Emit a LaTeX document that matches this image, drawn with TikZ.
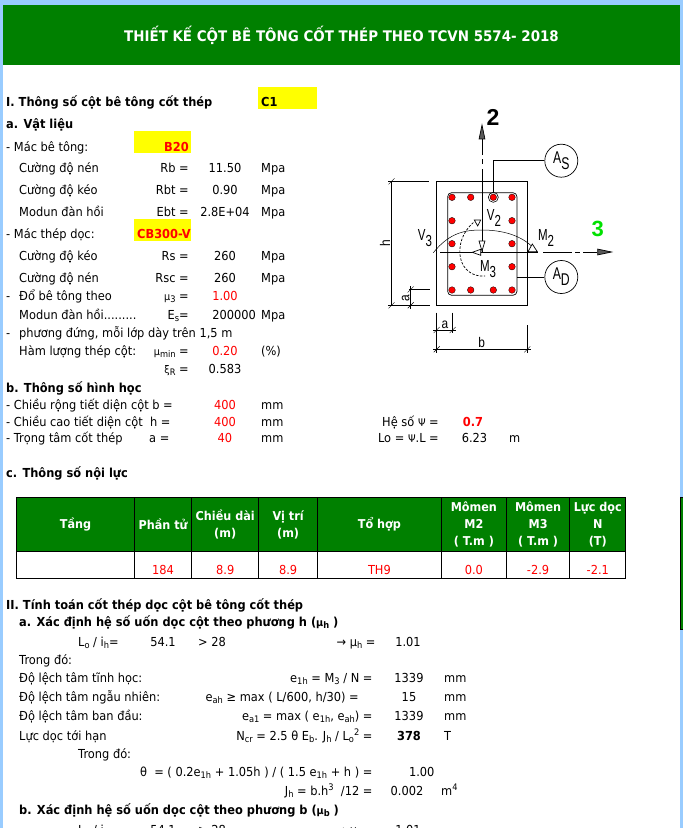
\documentclass[tikz,border=0pt]{standalone}
\usepackage{fontspec}
\usepackage{graphicx}
\setmainfont[FakeStretch=0.92]{DejaVu Sans}
\newfontfamily\cadfont{Liberation Sans}
\usetikzlibrary{arrows.meta}
\definecolor{pagegreen}{RGB}{0,128,0}
\definecolor{edgeblue}{RGB}{153,204,255}
\definecolor{markyellow}{RGB}{255,255,0}
\definecolor{valred}{RGB}{255,0,0}
\definecolor{limegreen}{RGB}{0,225,0}
\newcommand{\sbt}[1]{\raisebox{-2.5pt}{\fontsize{9}{9}\selectfont #1}}
\newcommand{\spt}[1]{\raisebox{4.5pt}{\fontsize{9}{9}\selectfont #1}}
\newcommand{\muu}[1]{{\fontsize{10.5}{10}\selectfont μ}\sbt{#1}}
\newcommand{\cad}[3][16]{\scalebox{.72}[1]{\cadfont\fontsize{#1}{#1}\selectfont #2\raisebox{-6pt}{#3}}}
\newcommand{\dtick}[1]{\draw #1 +(-3,3) -- +(3,-3);}
\newcommand{\low}[1]{\raisebox{-9pt}[0pt][0pt]{#1}}
\begin{document}
\begin{tikzpicture}[x=1pt,y=-1pt,
    lbl/.style={anchor=base west,inner sep=0pt,font=\fontsize{12.4}{14}\selectfont},
    lblr/.style={anchor=base east,inner sep=0pt,font=\fontsize{12.4}{14}\selectfont},
    val/.style={anchor=base,inner sep=0pt,font=\fontsize{12.4}{14}\selectfont},
    hd/.style={anchor=base west,inner sep=0pt,font=\fontsize{12.4}{14}\selectfont\bfseries},
    redval/.style={val,text=valred},
    boldval/.style={val,font=\fontsize{12.4}{14}\selectfont\bfseries},
    yellowbox/.style={fill=markyellow,inner sep=0pt},
    headcell/.style={draw=black,line width=0.9pt,fill=pagegreen,text=white,inner sep=0pt,minimum height=54pt,
        align=center,font=\fontsize{12.2}{17}\selectfont\bfseries},
    bodycell/.style={draw=black,line width=0.9pt,inner sep=0pt,minimum height=26.6pt,text=valred,
        font=\fontsize{12.4}{14}\selectfont},
    rebar/.style={circle,fill=valred,draw=black,line width=0.3pt,inner sep=0pt,minimum size=6.6pt},
    tagcircle/.style={circle,draw,line width=0.7pt,inner sep=0pt,minimum size=33pt},
    cadtext/.style={inner sep=0pt},
    thin line/.style={line width=0.7pt},
    axis tip/.style={-{Stealth[inset=0pt,length=16pt,width=6.5pt,fill=gray!70!black]}}
  ]
  \useasboundingbox (0,0) rectangle (683,828);
  \clip (0,0) rectangle (683,828);

  % page
  \fill[edgeblue] (0,0) rectangle (683,828);
  \fill[white] (3,5) rectangle (680,828);
  \node[fill=pagegreen,inner sep=0pt,minimum width=677pt,minimum height=60pt,text=white,
    font=\fontsize{14.6}{16}\selectfont\bfseries] (title) at (341.5,35) {THIẾT KẾ CỘT BÊ TÔNG CỐT THÉP THEO TCVN 5574- 2018};
  \node[draw=black,fill=pagegreen,line width=0.8pt,inner sep=0pt,minimum width=4pt,minimum height=132pt] (sliver) at (682,563) {};

  % part I
  \node[hd] (s1) at (6,106) {I. Thông số cột bê tông cốt thép};
  \node[yellowbox,minimum width=59pt,minimum height=22pt] (c1box) at (287.5,98) {};
  \node[hd] (c1) at (261,106) {C1};
  \node[hd] (s1a) at (6,128) {a. Vật liệu};
  \node[lbl] (bt) at (6,151) {- Mác bê tông:};
  \node[yellowbox,minimum width=57pt,minimum height=22pt] (b20box) at (162.5,142) {};
  \node[hd,anchor=base east,text=valred] (b20) at (189,151) {B20};
  \node[lbl] (rbn) at (19,172) {Cường độ nén};
  \node[lblr] (rbs) at (189,172) {Rb =};
  \node[val] (rbv) at (225,172) {11.50};
  \node[lbl] (rbu) at (261,172) {Mpa};
  \node[lbl] (rtn) at (19,194) {Cường độ kéo};
  \node[lblr] (rts) at (189,194) {Rbt =};
  \node[val] (rtv) at (225,194) {0.90};
  \node[lbl] (rtu) at (261,194) {Mpa};
  \node[lbl] (ebn) at (19,216) {Modun đàn hồi};
  \node[lblr] (ebs) at (189,216) {Ebt =};
  \node[val] (ebv) at (225,216) {2.8E+04};
  \node[lbl] (ebu) at (261,216) {Mpa};
  \node[lbl] (st) at (6,238) {- Mác thép dọc:};
  \node[yellowbox,minimum width=57pt,minimum height=22pt] (cbbox) at (162.5,230) {};
  \node[hd,anchor=base east,text=valred] (cb) at (191,238) {CB300-V};
  \node[lbl] (rsn) at (19,260) {Cường độ kéo};
  \node[lblr] (rss) at (189,260) {Rs =};
  \node[val] (rsv) at (225,260) {260};
  \node[lbl] (rsu) at (261,260) {Mpa};
  \node[lbl] (rcn) at (19,282) {Cường độ nén};
  \node[lblr] (rcs) at (189,282) {Rsc =};
  \node[val] (rcv) at (225,282) {260};
  \node[lbl] (rcu) at (261,282) {Mpa};
  \node[lbl] (dash1) at (6,300) {-};
  \node[lbl] (don) at (19,300) {Đổ bê tông theo};
  \node[lblr] (dos) at (189,300) {\muu{3} =};
  \node[redval] (dov) at (225,300) {1.00};
  \node[lbl] (esn) at (19,319) {Modun đàn hồi.........};
  \node[lblr] (ess) at (189,319) {E\sbt{s}=};
  \node[val,anchor=base east] (esv) at (256,319) {200000};
  \node[lbl] (esu) at (261,319) {Mpa};
  \node[lbl] (dash2) at (6,337) {-};
  \node[lbl] (pd) at (19,337) {phương đứng, mỗi lớp dày trên 1,5 m};
  \node[lbl] (hln) at (19,355) {Hàm lượng thép cột:};
  \node[lblr] (hls) at (189,355) {\muu{min} =};
  \node[redval] (hlv) at (225,355) {0.20};
  \node[lbl] (hlu) at (261,355) {(\%)};
  \node[lblr] (xis) at (189,373) {{\fontsize{10.5}{10}\selectfont ξ}\sbt{R} =};
  \node[val] (xiv) at (225,373) {0.583};

  % geometry
  \node[hd] (s1b) at (6,392) {b. Thông số hình học};
  \node[lbl] (bn) at (6,409.5) {- Chiều rộng tiết diện cột b =};
  \node[redval] (bv) at (225,409.5) {400};
  \node[lbl] (bu) at (261,409.5) {mm};
  \node[lbl] (hn) at (6,426) {- Chiều cao tiết diện cột\ \ h =};
  \node[redval] (hv) at (225,426) {400};
  \node[lbl] (hu) at (261,426) {mm};
  \node[lbl] (an) at (6,442.5) {- Trọng tâm cốt thép};
  \node[lbl] (as) at (149,442.5) {a =};
  \node[redval] (av) at (225,442.5) {40};
  \node[lbl] (au) at (261,442.5) {mm};
  \node[lblr] (psis) at (439,426) {Hệ số {\fontsize{10.5}{10}\selectfont Ψ} =};
  \node[boldval,text=valred] (psiv) at (473,426) {0.7};
  \node[lblr] (los) at (439,442.5) {Lo = {\fontsize{10.5}{10}\selectfont Ψ}.L =};
  \node[val] (lov) at (474.5,442.5) {6.23};
  \node[lbl] (lou) at (509,442.5) {m};

  % internal forces table
  \node[hd] (s1c) at (6,477) {c. Thông số nội lực};
  \node[headcell,minimum width=118.1pt] (tang) at (75.5,524.7) {Tầng};
  \node[headcell,minimum width=57pt] (pt) at (163.1,524.7) {Phần tử};
  \node[headcell,minimum width=67.1pt] (cd) at (225.2,524.7) {Chiều dài\\(m)};
  \node[headcell,minimum width=58.8pt] (vt) at (288.1,524.7) {Vị trí\\(m)};
  \node[headcell,minimum width=123.7pt] (th) at (379.4,524.7) {Tổ hợp};
  \node[headcell,minimum width=65.3pt] (m2) at (473.9,524.7) {Mômen\\M2\\( T.m )};
  \node[headcell,minimum width=63.2pt] (m3) at (538.1,524.7) {Mômen\\M3\\( T.m )};
  \node[headcell,minimum width=56.2pt] (nn) at (597.8,524.7) {Lực dọc\\N\\(T)};
  \node[bodycell,minimum width=118.1pt] (tang0) at (75.5,565) {};
  \node[bodycell,minimum width=57pt] (pt0) at (163.1,565) {\low{184}};
  \node[bodycell,minimum width=67.1pt] (cd0) at (225.2,565) {\low{8.9}};
  \node[bodycell,minimum width=58.8pt] (vt0) at (288.1,565) {\low{8.9}};
  \node[bodycell,minimum width=123.7pt] (th0) at (379.4,565) {\low{TH9}};
  \node[bodycell,minimum width=65.3pt] (m20) at (473.9,565) {\low{0.0}};
  \node[bodycell,minimum width=63.2pt] (m30) at (538.1,565) {\low{-2.9}};
  \node[bodycell,minimum width=56.2pt] (nn0) at (597.8,565) {\low{-2.1}};

  % part II
  \node[hd] (s2) at (6,609) {II. Tính toán cốt thép dọc cột bê tông cốt thép};
  \node[hd] (s2a) at (19,626) {a. Xác định hệ số uốn dọc cột theo phương h ({\fontsize{10.5}{10}\selectfont μ}\sbt{h} )};
  \node[lbl] (loh) at (78,646) {L\sbt{o} / i\sbt{h}=};
  \node[val] (lohv) at (163,646) {54.1};
  \node[lbl] (gt) at (198,646) {> 28};
  \node[lblr] (muh) at (375.7,646) {→ μ\sbt{h} =};
  \node[val] (muhv) at (408,646) {1.01};
  \node[lbl] (td1) at (19,664) {Trong đó:};
  \node[lbl] (e1n) at (19,682) {Độ lệch tâm tĩnh học:};
  \node[lblr] (e1s) at (372.7,682) {e\sbt{1h} = M\sbt{3} / N =};
  \node[val] (e1v) at (409,682) {1339};
  \node[lbl] (e1u) at (444,682) {mm};
  \node[lbl] (ean) at (19,701) {Độ lệch tâm ngẫu nhiên:};
  \node[lblr] (eas) at (359,701) {e\sbt{ah} ≥ max ( L/600, h/30) =};
  \node[val] (eav) at (409,701) {15};
  \node[lbl] (eau) at (444,701) {mm};
  \node[lbl] (e0n) at (19,720) {Độ lệch tâm ban đầu:};
  \node[lblr] (e0s) at (372.7,720) {e\sbt{a1} = max ( e\sbt{1h}, e\sbt{ah}) =};
  \node[val] (e0v) at (409,720) {1339};
  \node[lbl] (e0u) at (444,720) {mm};
  \node[lbl] (ncn) at (19,740) {Lực dọc tới hạn};
  \node[lblr] (ncs) at (372.7,740) {N\sbt{cr} = 2.5 θ E\sbt{b}. J\sbt{h} / L\sbt{o}\spt{2} =};
  \node[boldval] (ncv) at (409,740) {378};
  \node[lbl] (ncu) at (444,740) {T};
  \node[lbl] (td2) at (78,758) {Trong đó:};
  \node[lblr] (ths) at (372.7,776) {θ\ \ = ( 0.2e\sbt{1h} + 1.05h ) / ( 1.5 e\sbt{1h} + h ) =};
  \node[val] (thv) at (421.7,776) {1.00};
  \node[lblr] (jhs) at (372.7,795) {J\sbt{h} = b.h\spt{3}\ \ /12 =};
  \node[val] (jhv) at (407,795) {0.002};
  \node[lbl] (jhu) at (441,795) {m\spt{4}};
  \node[hd] (s2b) at (19,814) {b. Xác định hệ số uốn dọc cột theo phương b ({\fontsize{10.5}{10}\selectfont μ}\sbt{b} )};
  \node[lbl] (lob) at (78,834) {L\sbt{o} / i\sbt{b}=};
  \node[val] (lobv) at (163,834) {54.1};
  \node[lbl] (gtb) at (198,834) {> 28};
  \node[lblr] (mub) at (375.7,834) {→ μ\sbt{b} =};
  \node[val] (mubv) at (408,834) {1.01};

  % column section
  \node[draw,thin line,inner sep=0pt,minimum width=90.6pt,minimum height=124pt] (sec) at (482,243.3) {};
  \node[draw,thin line,rounded corners=4pt,inner sep=0pt,minimum width=69.3pt,minimum height=102.6pt] (core) at (482.3,244) {};
  \node[rebar] (d1) at (452,197.3) {};
  \node[rebar] (d2) at (470.7,197.3) {};
  \node[rebar] (d3) at (493.3,197.3) {};
  \node[rebar] (d4) at (512,197.3) {};
  \node[rebar] (d5) at (452,220.7) {};
  \node[rebar] (d6) at (512,220.7) {};
  \node[rebar] (d7) at (452,243.7) {};
  \node[rebar] (d8) at (512,243.7) {};
  \node[rebar] (d9) at (452,266.7) {};
  \node[rebar] (d10) at (512,266.7) {};
  \node[rebar] (d11) at (452,290) {};
  \node[rebar] (d12) at (470.7,290) {};
  \node[rebar] (d13) at (493.3,290) {};
  \node[rebar] (d14) at (512,290) {};
  \node[circle,draw,line width=0.6pt,inner sep=0pt,minimum size=10pt] (ring) at (d3) {};

  % axes
  \coordinate (axbot) at (482,252);
  \coordinate (axtop) at (482,123.3);
  \coordinate (axleft) at (440,252);
  \coordinate (axright) at (613.3,252);
  \draw[thin line,axis tip,dash pattern=on 98pt off 5pt on 29pt off 3pt on 5pt off 3pt on 30pt] (axleft) -- (axright);
  \draw[thin line,axis tip,dash pattern=on 83pt off 5pt on 5pt off 4pt on 40pt] (axbot) -- (axtop);
  \node[cadtext,font=\cadfont\fontsize{23}{23}\selectfont\bfseries] (two) at (493,117) {2};
  \node[cadtext,text=limegreen,font=\cadfont\fontsize{22}{22}\selectfont\bfseries] (three) at (597.7,229.3) {3};

  % tags
  \node[tagcircle] (ts) at (561.3,160.7) {\cad[17]{A}{S}};
  \node[tagcircle] (td) at (561.3,277) {\cad[17]{A}{D}};
  \draw[thin line] (ts.west) -| (ring.north);
  \draw[thin line] (td.west) -- (core.east |- td.west);

  % moments and shears
  \draw[line width=0.5pt] (433.3,252.7) .. controls (450,232) and (466,230) .. (481.7,230) .. controls (502,230) and (524,235) .. (537.3,252.3);
  \draw[line width=0.7pt,dashed,dash pattern=on 2.5pt off 1.5pt] (473.5,222.5) .. controls (462,232) and (458,247) .. (460.5,258) .. controls (463,270) and (473,277) .. (485,276);
  \draw[thin line,fill=white] (532.3,244) -- (528,251.7) -- (537.3,251.7) -- cycle;
  \draw[thin line,fill=white] (474.3,220) -- (480.7,220) -- (477.7,226) -- cycle;
  \draw[thin line,fill=white] (472.3,252.3) -- (480.7,249.3) -- (480.7,255.3) -- cycle;
  \draw[thin line,fill=white] (479,241) -- (485,241) -- (482,251) -- cycle;
  \node[cadtext] (v2) at (494,218) {\cad{V}{2}};
  \node[cadtext] (v3) at (425,238) {\cad{V}{3}};
  \node[cadtext] (m2t) at (546,238) {\cad{M}{2}};
  \node[cadtext] (m3t) at (488,269) {\cad{M}{3}};

  % dimensions
  \coordinate (h1) at (391.5,181.3);
  \coordinate (h2) at (391.5,305.3);
  \coordinate (a1) at (410.7,289.5);
  \coordinate (a2) at (410.7,305.3);
  \coordinate (b0) at (436.7,349.3);
  \coordinate (b1) at (527.3,349.3);
  \coordinate (c0) at (436.7,330);
  \coordinate (c1p) at (452.7,330);
  \draw[thin line] (388,181.3) -- (429,181.3);
  \draw[thin line] (388,305.3) -- (430,305.3);
  \draw[thin line] (409,289.5) -- (430,289.5);
  \draw[thin line] (h1) -- (h2);
  \draw[thin line] (410.7,286) -- (410.7,309);
  \draw[thin line] (436.7,312.7) -- (436.7,352.7);
  \draw[thin line] (452.7,312.7) -- (452.7,333);
  \draw[thin line] (527.3,325) -- (527.3,352.7);
  \draw[thin line] (433,330) -- (456,330);
  \draw[thin line] (433,349.3) -- (530.7,349.3);
  \dtick{(h1)} \dtick{(h2)} \dtick{(a1)} \dtick{(a2)}
  \dtick{(b0)} \dtick{(b1)} \dtick{(c0)} \dtick{(c1p)}
  \node[cadtext,rotate=90,font=\cadfont\fontsize{14}{14}\selectfont] (hlab) at (385,243) {\scalebox{.85}[1]{h}};
  \node[cadtext,rotate=90,font=\cadfont\fontsize{14}{14}\selectfont] (alab) at (405.7,297.7) {\scalebox{.85}[1]{a}};
  \node[cadtext,font=\cadfont\fontsize{14}{14}\selectfont] (clab) at (445,325) {\scalebox{.85}[1]{a}};
  \node[cadtext,font=\cadfont\fontsize{14}{14}\selectfont] (blab) at (481.7,342) {\scalebox{.85}[1]{b}};
\end{tikzpicture}
\end{document}
